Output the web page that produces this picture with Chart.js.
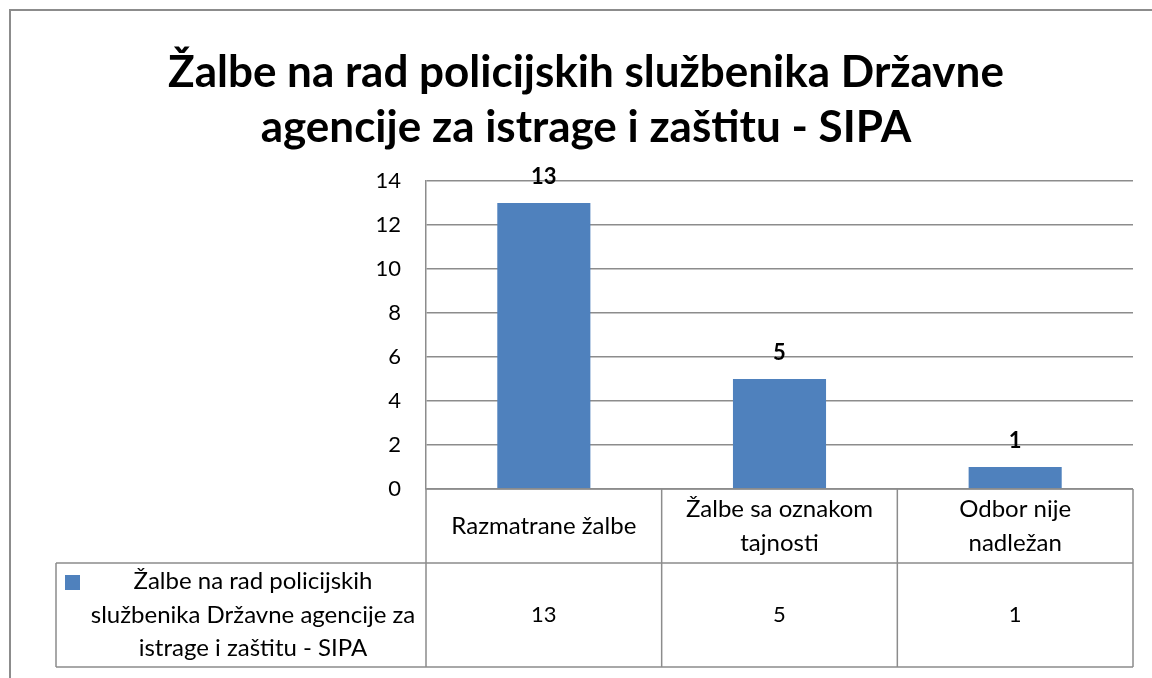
<!DOCTYPE html>
<html>
<head>
<meta charset="utf-8">
<script src="https://cdn.jsdelivr.net/npm/chart.js@4.4.1/dist/chart.umd.min.js"></script>
<style>
  html, body { margin: 0; padding: 0; background: #fff; }
  #wrap { width: 1152px; height: 678px; position: relative; }
</style>
</head>
<body>
<div id="wrap"><canvas id="mainChart"></canvas></div>
<script>
// podaci
const titleLines = ['Žalbe na rad policijskih službenika Državne', 'agencije za istrage i zaštitu - SIPA'];
const categories = ['Razmatrane žalbe', 'Žalbe sa oznakom tajnosti', 'Odbor nije nadležan'];
const categoryLines = [['Razmatrane žalbe'], ['Žalbe sa oznakom', 'tajnosti'], ['Odbor nije', 'nadležan']];
const seriesName = 'Žalbe na rad policijskih službenika Državne agencije za istrage i zaštitu - SIPA';
const seriesLines = ['Žalbe na rad policijskih', 'službenika Državne agencije za', 'istrage i zaštitu - SIPA'];
const values = [13, 5, 1];
const yMin = 0, yMax = 14, yStep = 2;

const FONT = 'Lato, "Open Sans", sans-serif';
const GRID = '#8c8c8c';
const BAR = '#4f81bd';

// tabela, naslov, okvir i oznake vrijednosti
const extras = {
    id: 'extras',
    afterDraw(chart) {
        const ctx = chart.ctx;
        const a = chart.chartArea;
        const meta = chart.getDatasetMeta(0);
        const n = categories.length;
        const w = (a.right - a.left) / n;
        const row1 = a.bottom + 74;
        const row2 = row1 + 104;
        const leftCol = 56;

        ctx.save();
        // okvir
        ctx.strokeStyle = GRID;
        ctx.lineWidth = 2;
        ctx.beginPath();
        ctx.moveTo(10, 678);
        ctx.lineTo(10, 10);
        ctx.lineTo(1152, 10);
        ctx.stroke();

        // naslov
        ctx.fillStyle = '#000';
        ctx.textAlign = 'center';
        ctx.textBaseline = 'middle';
        ctx.font = 'bold 44px ' + FONT;
        titleLines.forEach((t, i) => ctx.fillText(t, 586, 73 + i * 55));

        // vrijednosti iznad stubaca
        ctx.font = 'bold 22px ' + FONT;
        meta.data.forEach((bar, i) => {
            ctx.fillText(String(values[i]), bar.x, bar.y - 26);
        });

        // linije tabele
        ctx.strokeStyle = GRID;
        ctx.lineWidth = 1.5;
        ctx.beginPath();
        ctx.moveTo(a.left, a.bottom); ctx.lineTo(a.right, a.bottom);
        ctx.moveTo(leftCol, row1); ctx.lineTo(a.right, row1);
        ctx.moveTo(leftCol, row2); ctx.lineTo(a.right, row2);
        ctx.moveTo(leftCol, row1); ctx.lineTo(leftCol, row2);
        ctx.moveTo(a.left, a.bottom); ctx.lineTo(a.left, row2);
        for (let i = 1; i <= n; i++) {
            const x = a.left + i * w;
            ctx.moveTo(x, a.bottom); ctx.lineTo(x, row2);
        }
        ctx.stroke();

        // zaglavlja kategorija i vrijednosti
        ctx.font = '24px ' + FONT;
        categoryLines.forEach((lines, i) => {
            const cx = meta.data[i].x;
            const cy = (a.bottom + row1) / 2;
            lines.forEach((t, j) => {
                ctx.fillText(t, cx, cy + (j - (lines.length - 1) / 2) * 34);
            });
        });
        ctx.font = '22px ' + FONT;
        values.forEach((v, i) => {
            ctx.fillText(String(v), meta.data[i].x, (row1 + row2) / 2);
        });

        // legenda u tabeli
        ctx.fillStyle = BAR;
        ctx.fillRect(65, 575, 15, 15);
        ctx.fillStyle = '#000';
        ctx.font = '24px ' + FONT;
        const lx = (80 + a.left) / 2;
        seriesLines.forEach((t, j) => {
            ctx.fillText(t, lx, (row1 + row2) / 2 + (j - 1) * 33.5);
        });
        ctx.restore();
    }
};

const chart = new Chart(document.getElementById('mainChart'), {
    type: 'bar',
    data: {
        labels: categories,
        datasets: [{
            label: seriesName,
            data: values,
            backgroundColor: BAR,
            borderWidth: 0,
            categoryPercentage: 1,
            barPercentage: 0.395
        }]
    },
    options: {
        responsive: true,
        maintainAspectRatio: false,
        animation: false,
        layout: { padding: { top: 181, bottom: 189, left: 0, right: 19 } },
        plugins: {
            legend: { display: false },
            title: { display: false },
            tooltip: { enabled: false }
        },
        scales: {
            x: { display: false },
            y: {
                min: yMin,
                max: yMax,
                afterFit: (s) => { s.width = 426; },
                ticks: {
                    stepSize: yStep,
                    color: '#000',
                    padding: 25,
                    font: { family: FONT, size: 22 }
                },
                grid: { color: GRID, lineWidth: 1.5, drawTicks: false },
                border: { color: GRID, width: 1.5 }
            }
        }
    },
    plugins: [extras]
});
</script>
</body>
</html>
